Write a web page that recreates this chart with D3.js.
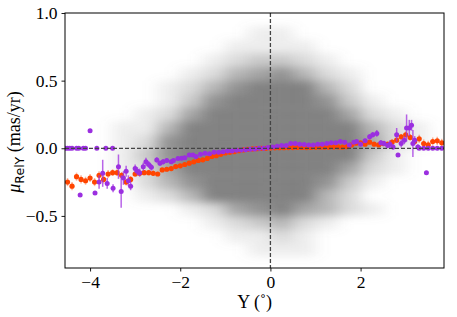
<!DOCTYPE html>
<html>
<head>
<meta charset="utf-8">
<script src="https://cdn.jsdelivr.net/npm/d3@7"></script>
<style>
  body { margin: 0; background: #fff; }
  text { font-family: "Liberation Serif", "DejaVu Serif", serif; fill: #000; }
</style>
</head>
<body>
<div id="chart"></div>
<script>
// gray background sample, density (0-9), cells 0.5 deg x 0.1 mas/yr
var cloudX0 = [-4.5, -4, -3.5, -3, -2.5, -2, -1.5, -1, -0.5, 0, 0.5, 1, 1.5, 2, 2.5, 3, 3.5];
var cloudY0 = [0.9, 0.8, 0.7, 0.6, 0.5, 0.4, 0.3, 0.2, 0.1, 0.0, -0.1, -0.2, -0.3, -0.4, -0.5, -0.6, -0.7, -0.8, -0.9];
var cloudRows = [
  "00000000000000000",
  "00000000110000000",
  "00000001111000000",
  "00000012332100000",
  "00000124564210000",
  "00001246887420000",
  "00001369999631000",
  "00012599999952100",
  "00114799999974210",
  "00126999999985210",
  "00136999999973100",
  "00125899999852100",
  "00024699999631000",
  "00012479987420000",
  "00000125675421000",
  "00000012342100000",
  "00000001121000000",
  "00000000111000000",
  "00000000000000000"
];

// orange series
var orangeX = d3.range(-45, 39).map(function(i) { return i / 10; });
var orangeY = [
  -0.25, -0.28, -0.21, -0.23, -0.24, -0.22, -0.25, -0.20, -0.23, -0.19,
  -0.18, -0.18, -0.20, -0.25, -0.23, -0.19, -0.185, -0.18, -0.18, -0.185,
  -0.19, -0.16, -0.155, -0.15, -0.135, -0.13, -0.12, -0.11, -0.10, -0.09,
  -0.085, -0.075, -0.06, -0.055, -0.045, -0.035, -0.03, -0.025, -0.018, -0.012,
  -0.008, -0.005, -0.003, 0.0, 0.0, 0.002, 0.003, 0.004, 0.004, 0.005,
  0.005, 0.006, 0.006, 0.005, 0.006, 0.007, 0.008, 0.007, 0.008, 0.01,
  0.01, 0.008, 0.012, 0.025, 0.037, 0.04, 0.03, 0.045, 0.03, 0.025,
  0.035, 0.03, 0.045, 0.06, 0.085, 0.1, 0.08, 0.05, 0.07, 0.035,
  0.025, 0.05, 0.055, 0.04
];
var orangeErr = [
  0.03, 0.03, 0.03, 0.03, 0.03, 0.03, 0.03, 0.03, 0.03, 0.03,
  0.025, 0.025, 0.025, 0.025, 0.025, 0.02, 0.02, 0.02, 0.02, 0.02,
  0.015, 0.015, 0.015, 0.012, 0.012, 0.01, 0.01, 0.008, 0.008, 0.006,
  0.006, 0.005, 0.005, 0.004, 0.004, 0.004, 0.003, 0.003, 0.003, 0.003,
  0.003, 0.003, 0.003, 0.003, 0.003, 0.003, 0.003, 0.003, 0.003, 0.003,
  0.003, 0.003, 0.003, 0.003, 0.003, 0.003, 0.004, 0.004, 0.004, 0.005,
  0.005, 0.006, 0.006, 0.008, 0.008, 0.01, 0.01, 0.012, 0.012, 0.015,
  0.015, 0.015, 0.02, 0.02, 0.02, 0.025, 0.025, 0.025, 0.03, 0.03,
  0.03, 0.03, 0.03, 0.03
];

// purple series
var purpleX = [
  -4.55, -4.5, -4.45, -4.4, -4.3, -4.25, -4.15, -4.1, -3.85, -3.65, -3.5, -4.0,
  -4.22, -3.89, -3.8, -3.72, -3.62, -3.49, -3.37, -3.31, -3.26, -3.2, -3.15, -3.1,
  -3.0, -2.95, -2.9, -2.82, -2.76, -2.7, -2.64, -2.52, -2.45, -2.38, -2.3, -2.2,
  -2.15, -2.05, -1.97, -1.9, -1.8, -1.72, -1.65, -1.55, -1.45, -1.35, -1.25, -1.15,
  -1.05, -0.95, -0.85, -0.75, -0.65, -0.55, -0.45, -0.35, -0.25, -0.15, -0.05, 0.05,
  0.15, 0.25, 0.35, 0.45, 0.55, 0.65, 0.75, 0.85, 0.95, 1.05, 1.15, 1.25,
  1.35, 1.45, 1.55, 1.65, 1.75, 1.85, 1.91, 2.0, 2.1, 2.2, 2.27, 2.36,
  2.45, 2.52, 2.6, 2.65, 2.72, 2.8, 2.83, 2.9, 2.97, 3.02, 3.08, 3.13,
  3.16, 3.2, 3.27, 3.3, 3.4, 3.46, 3.5, 3.6, 3.7, 3.8
];
var purpleY = [
  0, 0, 0, 0, 0, 0, 0, 0, 0, 0, 0, 0.13,
  -0.345, -0.33, -0.25, -0.185, -0.26, -0.295, -0.136, -0.32, -0.22, -0.17, -0.24, -0.28,
  -0.15, -0.17, -0.18, -0.136, -0.10, -0.12, -0.14, -0.086, -0.11, -0.10, -0.09, -0.10,
  -0.09, -0.075, -0.074, -0.07, -0.05, -0.05, -0.06, -0.045, -0.037, -0.04, -0.03, -0.03,
  -0.025, -0.02, -0.02, -0.015, -0.012, -0.01, -0.008, -0.005, 0.0, 0.0, 0.005, 0.01,
  0.015, 0.02, 0.02, 0.035, 0.035, 0.03, 0.028, 0.025, 0.025, 0.03, 0.03, 0.035,
  0.04, 0.04, 0.05, 0.045, 0.025, 0.045, 0.05, 0.03, 0.055, 0.085, 0.10, 0.11,
  0.04, 0.035, 0.02, 0.03, 0.01, 0.10, -0.05, 0.035, 0.06, 0.15, 0.15, 0.17,
  0.035, 0.06, 0.01, 0, 0, -0.18, 0, 0, 0, 0
];
var purpleErr = [
  0, 0, 0, 0, 0, 0, 0, 0, 0, 0, 0, 0,
  0.01, 0.01, 0.05, 0.1, 0.04, 0.03, 0.09, 0.12, 0.05, 0.04, 0.04, 0.03,
  0.03, 0.03, 0.03, 0.03, 0.03, 0.025, 0.025, 0.02, 0.02, 0.02, 0.015, 0.015,
  0.012, 0.01, 0.01, 0.01, 0.008, 0.008, 0.006, 0.006, 0.005, 0.005, 0.004, 0.004,
  0.004, 0.003, 0.003, 0.003, 0.003, 0.003, 0.003, 0.003, 0.003, 0.003, 0.003, 0.003,
  0.003, 0.003, 0.003, 0.003, 0.003, 0.003, 0.003, 0.003, 0.004, 0.004, 0.004, 0.005,
  0.005, 0.006, 0.006, 0.008, 0.008, 0.01, 0.01, 0.012, 0.015, 0.02, 0.02, 0.025,
  0.02, 0.02, 0.02, 0.03, 0.02, 0.05, 0.015, 0.03, 0.03, 0.1, 0.06, 0.04,
  0.1, 0.03, 0.02, 0, 0, 0.005, 0, 0, 0, 0
];

var xTicks = [-4, -2, 0, 2];
var yTicks = [-0.5, 0.0, 0.5, 1.0];

var W = 457, H = 317;
var margin = {top: 13, right: 13, bottom: 49, left: 65};
var width = W - margin.left - margin.right,
    height = H - margin.top - margin.bottom;

var x = d3.scaleLinear().domain([-4.556, 3.85]).range([0, width]);
var y = d3.scaleLinear().domain([-0.885, 1.0]).range([height, 0]);

var svg = d3.select("#chart").append("svg")
    .attr("width", W)
    .attr("height", H);

var defs = svg.append("defs");
defs.append("clipPath").attr("id", "plotclip")
  .append("rect").attr("width", width).attr("height", height);
defs.append("filter").attr("id", "soft")
    .attr("x", "-20%").attr("y", "-20%").attr("width", "140%").attr("height", "140%")
  .append("feGaussianBlur").attr("stdDeviation", "8 4");

var g = svg.append("g")
    .attr("transform", "translate(" + margin.left + "," + margin.top + ")");

// background cloud
var cells = [];
cloudRows.forEach(function(row, j) {
  row.split("").forEach(function(c, i) {
    var v = +c;
    if (v > 0) cells.push({x0: cloudX0[i], y0: cloudY0[j], v: v});
  });
});

g.append("g").attr("clip-path", "url(#plotclip)")
  .append("g").attr("filter", "url(#soft)")
  .selectAll("rect")
  .data(cells)
  .enter().append("rect")
    .attr("x", function(d) { return x(d.x0); })
    .attr("y", function(d) { return y(d.y0 + 0.1); })
    .attr("width", function(d) { return x(d.x0 + 0.5) - x(d.x0); })
    .attr("height", function(d) { return y(d.y0) - y(d.y0 + 0.1); })
    .attr("fill", "#808080")
    .attr("fill-opacity", function(d) { return Math.min(1, d.v / 7); });

var orange = orangeX.map(function(v, i) { return {x: v, y: orangeY[i], e: orangeErr[i]}; });
var purple = purpleX.map(function(v, i) { return {x: v, y: purpleY[i], e: purpleErr[i]}; });

var plot = g.append("g").attr("clip-path", "url(#plotclip)");

// orange error bars + points
plot.selectAll(".oerr")
  .data(orange)
  .enter().append("line")
    .attr("class", "oerr")
    .attr("x1", function(d) { return x(d.x); })
    .attr("x2", function(d) { return x(d.x); })
    .attr("y1", function(d) { return y(d.y - d.e); })
    .attr("y2", function(d) { return y(d.y + d.e); })
    .attr("stroke", "#ff4500")
    .attr("stroke-opacity", 0.4)
    .attr("stroke-width", 1.5);

plot.selectAll(".odot")
  .data(orange)
  .enter().append("circle")
    .attr("class", "odot")
    .attr("cx", function(d) { return x(d.x); })
    .attr("cy", function(d) { return y(d.y); })
    .attr("r", 2.6)
    .attr("fill", "#ff4500");

// purple error bars + points
plot.selectAll(".perr")
  .data(purple)
  .enter().append("line")
    .attr("class", "perr")
    .attr("x1", function(d) { return x(d.x); })
    .attr("x2", function(d) { return x(d.x); })
    .attr("y1", function(d) { return y(d.y - d.e); })
    .attr("y2", function(d) { return y(d.y + d.e); })
    .attr("stroke", "#a030e0")
    .attr("stroke-opacity", 0.75)
    .attr("stroke-width", 1.5);

plot.selectAll(".pdot")
  .data(purple)
  .enter().append("circle")
    .attr("class", "pdot")
    .attr("cx", function(d) { return x(d.x); })
    .attr("cy", function(d) { return y(d.y); })
    .attr("r", 2.5)
    .attr("fill", "#9b2fe0");

// zero lines
g.append("line")
    .attr("x1", 0).attr("x2", width)
    .attr("y1", y(0)).attr("y2", y(0))
    .attr("stroke", "#444").attr("stroke-width", 1.3)
    .attr("stroke-dasharray", "4,2");
g.append("line")
    .attr("x1", x(0)).attr("x2", x(0))
    .attr("y1", 0).attr("y2", height)
    .attr("stroke", "#444").attr("stroke-width", 1.3)
    .attr("stroke-dasharray", "4,2");

// axes
var fmtX = function(d) { return d < 0 ? "\u2212" + Math.abs(d) : "" + d; };
var fmtY = function(d) { return d < 0 ? "\u2212" + d3.format(".1f")(-d) : d3.format(".1f")(d); };

var xAxis = g.append("g")
    .attr("transform", "translate(0," + height + ")")
    .call(d3.axisBottom(x).tickValues(xTicks).tickFormat(fmtX).tickSizeOuter(0).tickSize(3.5).tickPadding(4));
var yAxis = g.append("g")
    .call(d3.axisLeft(y).tickValues(yTicks).tickFormat(fmtY).tickSizeOuter(0).tickSize(3.5).tickPadding(4));

[xAxis, yAxis].forEach(function(a) {
  a.select(".domain").remove();
  a.selectAll("text").style("font-family", "'Liberation Serif', serif").style("font-size", "17.5px").attr("fill", "#000");
  a.selectAll("line").attr("stroke", "#000").attr("stroke-width", 0.9);
});

// frame
g.append("rect")
    .attr("width", width).attr("height", height)
    .attr("fill", "none").attr("stroke", "#000").attr("stroke-width", 1);

// labels
svg.append("text")
    .attr("x", margin.left + x(-0.35))
    .attr("y", 308)
    .attr("text-anchor", "middle")
    .style("font-size", "18px")
    .text("Y (\u02da)");

var yl = svg.append("text")
    .attr("transform", "translate(20," + 142 + ") rotate(-90)")
    .attr("text-anchor", "middle")
    .style("font-size", "18px");
yl.append("tspan").style("font-style", "italic").text("\u03bc");
yl.append("tspan").attr("dy", 4).style("font-family", "'DejaVu Sans', sans-serif").style("font-size", "12.5px").text("RelY");
yl.append("tspan").attr("dy", -4).text(" (mas/yr)");
</script>
</body>
</html>
